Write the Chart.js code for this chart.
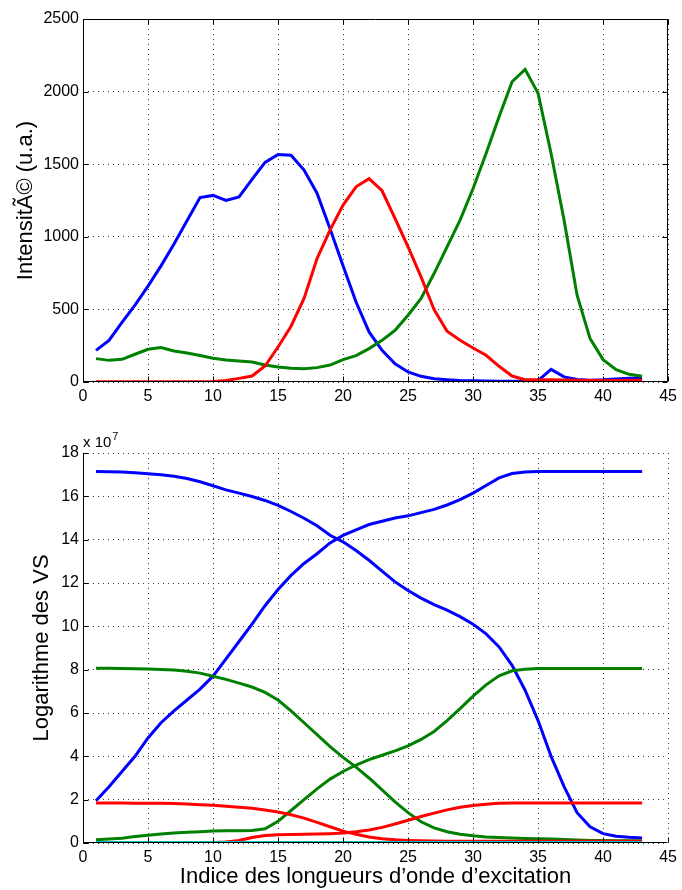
<!DOCTYPE html>
<html>
<head>
<meta charset="utf-8">
<title>Intensité / Logarithme des VS</title>
<script src="https://cdn.jsdelivr.net/npm/chart.js@4/dist/chart.umd.min.js"></script>
<style>
    body { margin: 0; background: #fff; }
    #wrap { position: relative; width: 682px; height: 890px; }
    #topChart { position: absolute; left: 0; top: 0; }
    #bottomChart { position: absolute; left: 0; top: 410px; }
</style>
</head>
<body>
<div id="wrap">
    <canvas id="topChart" width="682" height="410"></canvas>
    <canvas id="bottomChart" width="682" height="480"></canvas>
</div>
<script>
// ============================================
// DATA
// ============================================

// Excitation wavelength index (x axis, both plots)
const xIdx = [1, 2, 3, 4, 5, 6, 7, 8, 9, 10, 11, 12, 13, 14, 15, 16, 17, 18, 19, 20,
              21, 22, 23, 24, 25, 26, 27, 28, 29, 30, 31, 32, 33, 34, 35, 36, 37, 38, 39, 40,
              41, 42, 43];

// Top plot: intensity (u.a.)
const topBlue = [218, 287, 410, 530, 660, 800, 950, 1110, 1270, 1285,
                 1250, 1275, 1395, 1512, 1567, 1562, 1460, 1300, 1055, 800,
                 551, 345, 218, 126, 69, 39, 23, 16, 10, 8,
                 7, 6, 5, 5, 10, 87, 35, 18, 12, 15,
                 20, 25, 28];
const topRed = [2, 2, 2, 2, 2, 2, 2, 2, 2, 3,
                10, 25, 41, 110, 241, 384, 575, 850, 1046, 1218,
                1344, 1400, 1317, 1126, 931, 724, 499, 349, 287, 234,
                184, 108, 41, 16, 15, 15, 14, 12, 10, 10,
                10, 12, 12];
const topGreen = [161, 149, 156, 191, 225, 237, 214, 200, 182, 163,
                  152, 145, 138, 117, 103, 94, 92, 99, 117, 154,
                  182, 230, 287, 356, 460, 575, 747, 931, 1115, 1333,
                  1574, 1827, 2068, 2153, 1988, 1574, 1115, 598, 299, 154,
                  85, 53, 39];

// Bottom plot: singular values (x 10^7)
const vsBlueDown = [17.15, 17.14, 17.12, 17.09, 17.04, 17.0, 16.93, 16.82, 16.67, 16.49,
                    16.3, 16.15, 15.99, 15.81, 15.58, 15.3, 14.99, 14.64, 14.2, 13.9,
                    13.5, 13.05, 12.55, 12.05, 11.65, 11.3, 11.0, 10.75, 10.45, 10.1,
                    9.65, 9.05, 8.2, 7.05, 5.65, 4.0, 2.6, 1.4, 0.75, 0.43,
                    0.31, 0.26, 0.23];
const vsBlueUp = [1.95, 2.6, 3.3, 4.0, 4.85, 5.55, 6.1, 6.6, 7.1, 7.7,
                  8.5, 9.3, 10.1, 10.95, 11.7, 12.35, 12.9, 13.35, 13.85, 14.2,
                  14.45, 14.7, 14.85, 15.0, 15.1, 15.25, 15.4, 15.6, 15.85, 16.15,
                  16.5, 16.85, 17.05, 17.12, 17.15, 17.15, 17.15, 17.15, 17.15, 17.15,
                  17.15, 17.15, 17.15];
const vsGreenDown = [8.06, 8.06, 8.05, 8.04, 8.03, 8.01, 7.98, 7.93, 7.84, 7.7,
                     7.55, 7.38, 7.2, 6.95, 6.6, 6.1, 5.55, 5.0, 4.45, 3.95,
                     3.5, 3.0, 2.45, 1.9, 1.4, 0.98, 0.7, 0.52, 0.4, 0.33,
                     0.28, 0.25, 0.23, 0.21, 0.2, 0.18, 0.16, 0.14, 0.12, 0.11,
                     0.1, 0.1, 0.1];
const vsGreenUp = [0.15, 0.18, 0.22, 0.3, 0.36, 0.42, 0.46, 0.5, 0.52, 0.55,
                   0.56, 0.57, 0.58, 0.66, 1.0, 1.5, 2.0, 2.5, 2.95, 3.3,
                   3.6, 3.85, 4.05, 4.25, 4.48, 4.78, 5.15, 5.65, 6.2, 6.78,
                   7.3, 7.72, 7.95, 8.02, 8.05, 8.05, 8.05, 8.05, 8.05, 8.05,
                   8.05, 8.05, 8.05];
const vsRedDown = [1.85, 1.85, 1.85, 1.84, 1.84, 1.83, 1.82, 1.8, 1.77, 1.74,
                   1.7, 1.65, 1.6, 1.52, 1.43, 1.3, 1.15, 0.95, 0.75, 0.55,
                   0.4, 0.28, 0.2, 0.15, 0.12, 0.1, 0.09, 0.08, 0.08, 0.08,
                   0.08, 0.08, 0.08, 0.08, 0.08, 0.08, 0.08, 0.08, 0.08, 0.08,
                   0.08, 0.08, 0.08];
const vsRedUp = [0.02, 0.02, 0.02, 0.02, 0.02, 0.02, 0.02, 0.02, 0.02, 0.02,
                 0.05, 0.12, 0.25, 0.35, 0.38, 0.39, 0.4, 0.41, 0.43, 0.46,
                 0.52, 0.6, 0.72, 0.88, 1.05, 1.22, 1.38, 1.53, 1.65, 1.73,
                 1.79, 1.83, 1.85, 1.85, 1.85, 1.85, 1.85, 1.85, 1.85, 1.85,
                 1.85, 1.85, 1.85];
const vsCyan = [0.02, 0.02, 0.02, 0.02, 0.02, 0.02, 0.02, 0.02, 0.02, 0.02,
                0.02, 0.02, 0.02, 0.02, 0.02, 0.02, 0.02, 0.02, 0.02, 0.02,
                0.02, 0.02, 0.02, 0.02, 0.02, 0.02, 0.02, 0.02, 0.02, 0.02,
                0.02, 0.02, 0.02, 0.02, 0.02, 0.02, 0.02, 0.02, 0.02, 0.02,
                0.02, 0.02, 0.02];

// ============================================
// STYLE
// ============================================
const FONT = "'Liberation Sans', Arial, Helvetica, sans-serif";
const BLUE = '#0000ff';
const GREEN = '#008000';
const RED = '#ff0000';
const CYAN = '#00bfbf';

Chart.defaults.font.family = FONT;
Chart.defaults.color = '#000';

// Build {x, y} points from an index array and a value array
function pts(values) {
    return xIdx.map((x, i) => ({ x: x, y: values[i] }));
}

function line(values, color) {
    return {
        data: pts(values),
        borderColor: color,
        backgroundColor: color,
        borderWidth: 3,
        pointRadius: 0,
        tension: 0,
        fill: false
    };
}

// Frame, inward tick marks and the "x 10^7" multiplier
const matlabFrame = {
    id: 'matlabFrame',
    afterDraw(chart, args, opts) {
        const ctx = chart.ctx;
        const a = chart.chartArea;
        const sx = chart.scales.x;
        const sy = chart.scales.y;
        const L = Math.round(a.left) + 0.5;
        const R = Math.round(a.right) - 0.5;
        const T = Math.round(a.top) + 0.5;
        const B = Math.round(a.bottom) - 0.5;

        ctx.save();
        ctx.strokeStyle = '#000';
        ctx.lineWidth = 1;
        ctx.setLineDash([]);

        const seg = (x1, y1, x2, y2) => {
            ctx.beginPath();
            ctx.moveTo(x1, y1);
            ctx.lineTo(x2, y2);
            ctx.stroke();
        };

        seg(L, T, L, B);
        seg(L, B, R, B);
        if (opts.box) {
            seg(L, T, R, T);
            seg(R, T, R, B);
        }

        const tk = 5;
        sx.ticks.forEach(t => {
            const px = Math.round(sx.getPixelForValue(t.value)) + 0.5;
            seg(px, B, px, B - tk);
            if (opts.box) seg(px, T, px, T + tk);
        });
        sy.ticks.forEach(t => {
            const py = Math.round(sy.getPixelForValue(t.value)) + 0.5;
            seg(L, py, L + tk, py);
            if (opts.box) seg(R, py, R - tk, py);
        });

        if (opts.exponent) {
            ctx.fillStyle = '#000';
            ctx.textBaseline = 'alphabetic';
            ctx.textAlign = 'left';
            ctx.font = '15px ' + FONT;
            ctx.fillText('x 10', a.left, a.top - 6);
            const w = ctx.measureText('x 10').width;
            ctx.font = '11px ' + FONT;
            ctx.fillText(opts.exponent, a.left + w + 1, a.top - 13);
        }
        ctx.restore();
    }
};

function axes(yMax, yStep, yTitle, yTitlePad, xTitle, xHeight) {
    const gridStyle = { color: '#333', lineWidth: 1, drawTicks: false };
    return {
        x: {
            type: 'linear',
            min: 0,
            max: 45,
            ticks: {
                stepSize: 5,
                padding: 5,
                font: { size: 16 },
                color: '#000',
                callback: v => String(v)
            },
            grid: gridStyle,
            border: { display: false, dash: [1, 4] },
            title: xTitle ? {
                display: true,
                text: xTitle,
                font: { size: 22, lineHeight: 1.2 },
                color: '#000',
                padding: { top: 0, bottom: 0 }
            } : { display: false },
            afterFit: scale => { scale.height = xHeight; }
        },
        y: {
            type: 'linear',
            min: 0,
            max: yMax,
            ticks: {
                stepSize: yStep,
                padding: 4,
                font: { size: 16 },
                color: '#000',
                callback: v => String(v)
            },
            grid: gridStyle,
            border: { display: false, dash: [1, 4] },
            title: {
                display: true,
                text: yTitle,
                font: { size: 22, lineHeight: 1.2 },
                color: '#000',
                padding: { top: yTitlePad, bottom: 0 }
            },
            afterFit: scale => { scale.width = 83; }
        }
    };
}

// ============================================
// TOP PLOT
// ============================================
new Chart(document.getElementById('topChart'), {
    type: 'line',
    data: {
        datasets: [
            line(topRed, RED),
            line(topGreen, GREEN),
            line(topBlue, BLUE)
        ]
    },
    options: {
        responsive: false,
        animation: false,
        devicePixelRatio: 1,
        layout: { padding: { top: 19, right: 11, left: 0, bottom: 0 } },
        plugins: {
            legend: { display: false },
            tooltip: { enabled: false },
            matlabFrame: { box: true }
        },
        scales: axes(2500, 500, 'IntensitÃ© (u.a.)', 13, null, 28)
    },
    plugins: [matlabFrame]
});

// ============================================
// BOTTOM PLOT
// ============================================
new Chart(document.getElementById('bottomChart'), {
    type: 'line',
    data: {
        datasets: [
            line(vsCyan, CYAN),
            line(vsRedUp, RED),
            line(vsRedDown, RED),
            line(vsGreenUp, GREEN),
            line(vsGreenDown, GREEN),
            line(vsBlueUp, BLUE),
            line(vsBlueDown, BLUE)
        ]
    },
    options: {
        responsive: false,
        animation: false,
        devicePixelRatio: 1,
        layout: { padding: { top: 43, right: 11, left: 0, bottom: 0 } },
        plugins: {
            legend: { display: false },
            tooltip: { enabled: false },
            matlabFrame: { box: false, exponent: '7' }
        },
        scales: axes(18, 2, 'Logarithme des VS', 29,
                     'Indice des longueurs d\u2019onde d\u2019excitation', 47)
    },
    plugins: [matlabFrame]
});
</script>
</body>
</html>
